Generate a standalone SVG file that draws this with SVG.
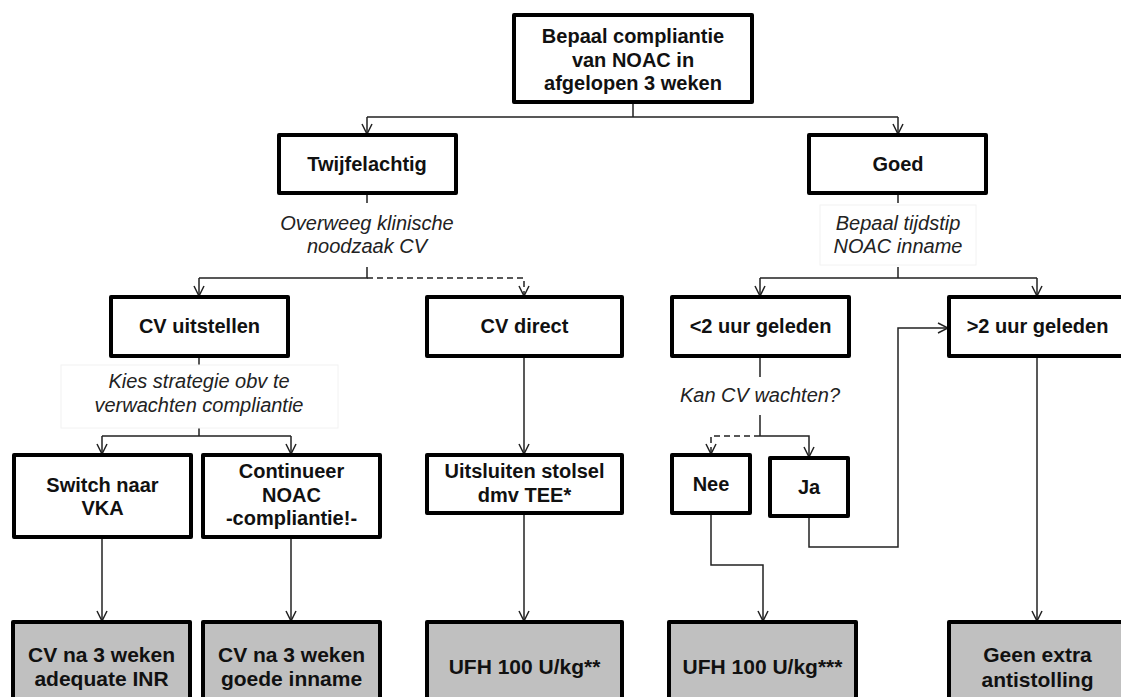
<svg xmlns="http://www.w3.org/2000/svg" width="1121" height="697" viewBox="0 0 1121 697">
<style>
.box{fill:#fff;stroke:#000;stroke-width:4;stroke-linejoin:round}
.end{fill:#c0c0c0;stroke:#000;stroke-width:4;stroke-linejoin:round}
.t{font-family:"Liberation Sans",Arial,sans-serif;font-weight:bold;font-size:20px;fill:#111;text-anchor:middle}
.tb{font-family:"Liberation Sans",Arial,sans-serif;font-weight:bold;font-size:21px;fill:#111;text-anchor:middle}
.lbl{font-family:"Liberation Sans",Arial,sans-serif;font-style:italic;font-size:20px;fill:#222;text-anchor:middle}
.lb{fill:#fff;stroke:#f2f2f2;stroke-width:1}
.c{fill:none;stroke:#222;stroke-width:1.5}
.d{fill:none;stroke:#222;stroke-width:1.5;stroke-dasharray:6 4}
</style>
<defs>
<marker id="a" viewBox="0 0 12 12" refX="11" refY="6" markerWidth="12" markerHeight="12" markerUnits="userSpaceOnUse" orient="auto">
<path d="M1,1 L11,6 L1,11" fill="none" stroke="#222" stroke-width="1.5"/>
</marker>
</defs>
<rect width="1121" height="697" fill="#fff"/>
<g id="connectors">
<path class="c" d="M633,102 V117 M367,117 H898"/>
<path class="c" d="M367,117 V134" marker-end="url(#a)"/>
<path class="c" d="M898,117 V134" marker-end="url(#a)"/>
<path class="c" d="M367,193 V203 M367,267 V278 H199"/>
<path class="c" d="M199,278 V296" marker-end="url(#a)"/>
<path class="d" d="M367,278 H524 V296" marker-end="url(#a)"/>
<path class="c" d="M898,193 V203 M898,267 V278 M760,278 H1037"/>
<path class="c" d="M760,278 V296" marker-end="url(#a)"/>
<path class="c" d="M1037,278 V296" marker-end="url(#a)"/>
<path class="c" d="M199,356 V365 M199,428 V436 M102,436 H291"/>
<path class="c" d="M102,436 V454" marker-end="url(#a)"/>
<path class="c" d="M291,436 V454" marker-end="url(#a)"/>
<path class="c" d="M524,356 V454" marker-end="url(#a)"/>
<path class="c" d="M760,356 V377 M760,415 V436"/>
<path class="c" d="M760,436 H809 V457" marker-end="url(#a)"/>
<path class="d" d="M760,436 H711 V454" marker-end="url(#a)"/>
<path class="c" d="M809,516 V547 H898 V328 H948" marker-end="url(#a)"/>
<path class="c" d="M1037,356 V621" marker-end="url(#a)"/>
<path class="c" d="M102,537 V621" marker-end="url(#a)"/>
<path class="c" d="M291,537 V621" marker-end="url(#a)"/>
<path class="c" d="M524,513 V621" marker-end="url(#a)"/>
<path class="c" d="M711,513 V565 H763 V621" marker-end="url(#a)"/>
</g>
<g id="label-overweeg">
<text class="lbl" x="367" y="230">Overweeg klinische</text>
<text class="lbl" x="367" y="253">noodzaak CV</text>
</g>
<g id="label-bepaal">
<rect class="lb" x="820" y="205" width="156" height="60"/>
<text class="lbl" x="898" y="230">Bepaal tijdstip</text>
<text class="lbl" x="898" y="253">NOAC inname</text>
</g>
<g id="label-kies">
<rect class="lb" x="61" y="365" width="277" height="63"/>
<text class="lbl" x="199" y="388">Kies strategie obv te</text>
<text class="lbl" x="199" y="412">verwachten compliantie</text>
</g>
<g id="label-kan">
<text class="lbl" x="760" y="402">Kan CV wachten?</text>
</g>
<g id="n-top">
<rect class="box" x="514" y="15" width="238" height="87"/>
<text class="t" x="633" y="43">Bepaal compliantie</text>
<text class="t" x="633" y="66.5">van NOAC in</text>
<text class="t" x="633" y="90">afgelopen 3 weken</text>
</g>
<g id="n-twijfel">
<rect class="box" x="279" y="135" width="177" height="58"/>
<text class="t" x="367" y="171">Twijfelachtig</text>
</g>
<g id="n-goed">
<rect class="box" x="809" y="135" width="177" height="58"/>
<text class="t" x="898" y="171">Goed</text>
</g>
<g id="n-uitstellen">
<rect class="box" x="111" y="297" width="177" height="59"/>
<text class="t" x="199.5" y="333">CV uitstellen</text>
</g>
<g id="n-direct">
<rect class="box" x="427" y="297" width="195" height="59"/>
<text class="t" x="524.5" y="333">CV direct</text>
</g>
<g id="n-lt2">
<rect class="box" x="672" y="297" width="177" height="59"/>
<text class="t" x="760.5" y="333">&lt;2 uur geleden</text>
</g>
<g id="n-gt2">
<rect class="box" x="949" y="297" width="177" height="59"/>
<text class="t" x="1037.5" y="333">&gt;2 uur geleden</text>
</g>
<g id="n-switch">
<rect class="box" x="14" y="455" width="177" height="82"/>
<text class="t" x="102.5" y="492">Switch naar</text>
<text class="t" x="102.5" y="515">VKA</text>
</g>
<g id="n-continueer">
<rect class="box" x="203" y="455" width="177" height="82"/>
<text class="t" x="291.5" y="478">Continueer</text>
<text class="t" x="291.5" y="502">NOAC</text>
<text class="t" x="291.5" y="525">-compliantie!-</text>
</g>
<g id="n-uitsluiten">
<rect class="box" x="427" y="455" width="195" height="58"/>
<text class="t" x="524.5" y="478">Uitsluiten stolsel</text>
<text class="t" x="524.5" y="502">dmv TEE*</text>
</g>
<g id="n-nee">
<rect class="box" x="672" y="455" width="78" height="58"/>
<text class="t" x="711" y="491">Nee</text>
</g>
<g id="n-ja">
<rect class="box" x="770" y="458" width="78" height="58"/>
<text class="t" x="809" y="494">Ja</text>
</g>
<g id="n-inr">
<rect class="end" x="13" y="622" width="177" height="100"/>
<text class="tb" x="101.5" y="662">CV na 3 weken</text>
<text class="tb" x="101.5" y="686">adequate INR</text>
</g>
<g id="n-inname">
<rect class="end" x="203" y="622" width="177" height="100"/>
<text class="tb" x="291.5" y="662">CV na 3 weken</text>
<text class="tb" x="291.5" y="686">goede inname</text>
</g>
<g id="n-ufh2">
<rect class="end" x="427" y="622" width="195" height="100"/>
<text class="tb" x="524.5" y="674">UFH 100 U/kg**</text>
</g>
<g id="n-ufh3">
<rect class="end" x="669" y="622" width="187" height="100"/>
<text class="tb" x="762.5" y="674">UFH 100 U/kg***</text>
</g>
<g id="n-geen">
<rect class="end" x="949" y="622" width="177" height="100"/>
<text class="tb" x="1037.5" y="662">Geen extra</text>
<text class="tb" x="1037.5" y="687">antistolling</text>
</g>
</svg>
